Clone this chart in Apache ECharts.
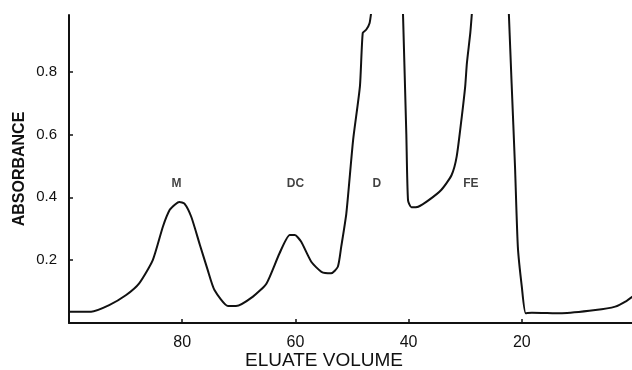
<!DOCTYPE html>
<html>
<head>
<meta charset="utf-8">
<script src="https://cdn.jsdelivr.net/npm/echarts@6/dist/echarts.min.js"></script>
<style>
  html, body { margin: 0; padding: 0; background: #fff; }
  #chart { width: 632px; height: 370px; }
</style>
</head>
<body>
<div id="chart"></div>
<script>
  // eluate volume (x) and absorbance (y); null = trace runs off the top
  var volume = [100, 96.1, 92.9, 89.9, 87.6, 85.2, 83.4, 82.2, 81.2, 80.5, 79.6, 78.4, 76.9, 75.5, 74.3,
    71.9, 70.5, 67.5, 65.1, 62.8, 61.0, 60.1, 59.0, 57.2, 55.4, 53.7, 52.5, 51.9, 51.0, 49.8, 48.6, 48.1,
    47.5, 46.9, 46.6, 44, 41.0, 40.4, 40.1, 39.5, 38.3, 36.5, 34.2, 32.4, 31.5, 30.6, 30.0, 29.7, 29.1,
    28.8, 25.5, 22.3, 21.8, 21.2, 20.7, 20.0, 19.3, 18.2, 12.9, 7.0, 3.5, 1.7, 0];
  var absorbance = [0.036, 0.036, 0.057, 0.089, 0.126, 0.2, 0.307, 0.36, 0.378, 0.385, 0.38, 0.338, 0.25, 0.169, 0.105,
    0.054, 0.054, 0.084, 0.126, 0.222, 0.28, 0.28, 0.259, 0.195, 0.163, 0.158, 0.179, 0.243, 0.349, 0.583, 0.753, 0.923,
    0.933, 0.954, 0.99, null, 0.99, 0.6, 0.39, 0.368, 0.37, 0.39, 0.424, 0.471, 0.53, 0.657, 0.753, 0.827, 0.923,
    0.99, null, 0.99, 0.763, 0.498, 0.243, 0.116, 0.031, 0.033, 0.031, 0.041, 0.052, 0.068, 0.09];

  // peak labels
  var peakNames = ['M', 'DC', 'D', 'FE'];
  var peakVolume = [81.0, 60.0, 45.6, 29.0];
  var peakLevel = [0.443, 0.443, 0.443, 0.443];

  var xTicks = [80, 60, 40, 20];
  var yTicks = [0.2, 0.4, 0.6, 0.8];

  var ink = '#111';
  var font = '"Liberation Sans", Arial, Helvetica, sans-serif';

  var trace = volume.map(function (v, i) {
    return [v, absorbance[i] === null ? '-' : absorbance[i]];
  });
  var peaks = peakNames.map(function (n, i) {
    return [peakVolume[i], peakLevel[i], n];
  });

  var chart = echarts.init(document.getElementById('chart'));
  chart.setOption({
    backgroundColor: '#fff',
    animation: false,
    grid: { left: 69, right: -3, top: 15, bottom: 47, outerBoundsMode: 'none', containLabel: false },
    xAxis: {
      type: 'value',
      min: 0,
      max: 100,
      inverse: true,
      name: 'ELUATE VOLUME',
      nameLocation: 'middle',
      nameGap: 28,
      nameMoveOverlap: false,
      nameTextStyle: { color: ink, fontFamily: font, fontSize: 19, padding: [0, 56, 0, 0] },
      splitLine: { show: false },
      axisLine: { onZero: false, lineStyle: { color: ink, width: 2 } },
      axisTick: { inside: true, length: 4, customValues: xTicks, lineStyle: { color: ink, width: 1.5 } },
      axisLabel: { customValues: xTicks, margin: 12, color: ink, fontFamily: font, fontSize: 16 }
    },
    yAxis: {
      type: 'value',
      min: 0,
      max: 0.98,
      name: 'ABSORBANCE',
      nameLocation: 'middle',
      nameGap: 41,
      nameMoveOverlap: false,
      nameTextStyle: { color: ink, fontFamily: font, fontSize: 16, fontWeight: 'bold' },
      splitLine: { show: false },
      axisLine: { show: true, onZero: false, lineStyle: { color: ink, width: 2 } },
      axisTick: { show: true, inside: true, length: 4, customValues: yTicks, lineStyle: { color: ink, width: 1.5 } },
      axisLabel: {
        customValues: yTicks, margin: 12, color: ink, fontFamily: font, fontSize: 15,
        formatter: function (v) { return v.toFixed(1); }
      }
    },
    series: [
      {
        type: 'line',
        data: trace,
        showSymbol: false,
        connectNulls: false,
        smooth: 0.2,
        lineStyle: { color: ink, width: 2 }
      },
      {
        type: 'scatter',
        data: peaks,
        symbolSize: 0,
        label: {
          show: true,
          position: 'inside',
          color: ink,
          fontFamily: font,
          fontSize: 12,
          fontWeight: 'bold',
          formatter: function (p) { return p.value[2]; }
        }
      }
    ]
  });
</script>
</body>
</html>
